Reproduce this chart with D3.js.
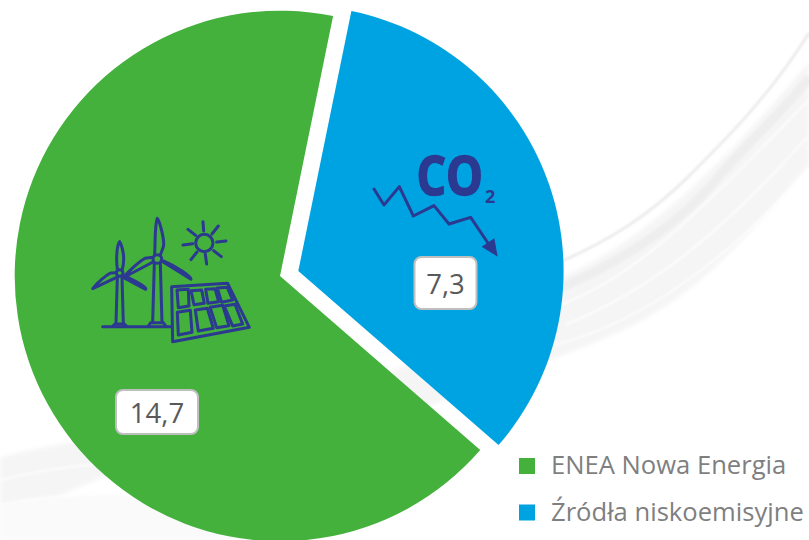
<!DOCTYPE html>
<html>
<head>
<meta charset="utf-8">
<script src="https://cdn.jsdelivr.net/npm/d3@7"></script>
<style>
  html, body { margin: 0; padding: 0; background: #fff; }
  svg { display: block; }
  text { font-family: "Open Sans", Lato, sans-serif; }
</style>
</head>
<body>
<div id="chart"></div>
<script>
// dane
const categories = ["ENEA Nowa Energia", "Źródła niskoemisyjne"];
const values = [14.7, 7.3];
const colors = ["#43b13b", "#00a3e2"];
const labels = ["14,7", "7,3"];

const width = 809;
const height = 540;
const radius = 265.3;
const iconColor = "#2b3990";

const svg = d3.select("#chart").append("svg")
    .attr("width", width)
    .attr("height", height);

// tlo - szare pociagniecia pedzla
const defs = svg.append("defs");
defs.append("filter").attr("id", "soft")
    .append("feGaussianBlur").attr("stdDeviation", 2);
defs.append("filter").attr("id", "soft2")
    .append("feGaussianBlur").attr("stdDeviation", 0.8);

const bg = svg.append("g");
const brush = bg.append("g").attr("filter", "url(#soft)");
brush.append("path")
    .attr("d", "M540,285 C610,262 690,205 809,62 L809,165 C740,245 690,305 600,340 C520,372 470,395 380,420 C300,440 220,440 120,470 L0,520 L0,458 C60,440 130,435 240,430 C360,400 470,330 540,285 Z")
    .attr("fill", "#f5f5f5");
brush.append("path")
    .attr("d", "M0,505 C70,490 140,490 230,515 L300,540 L0,540 Z")
    .attr("fill", "#fafafa");
// gorna krawedz
bg.append("path")
    .attr("d", "M560,262 C610,240 650,215 690,175 C730,135 770,95 809,33")
    .attr("fill", "none").attr("stroke", "#e9e9e9").attr("stroke-width", 2.5).attr("filter", "url(#soft2)");
bg.append("path")
    .attr("d", "M560,288 C620,262 680,225 720,175 C750,140 785,110 809,78")
    .attr("fill", "none").attr("stroke", "#eeeeee").attr("stroke-width", 9).attr("filter", "url(#soft2)");
// biale smugi
[
    "M560,305 C640,275 700,210 809,100",
    "M565,325 C650,290 720,235 809,135",
    "M555,345 C650,320 730,255 809,170",
    "M0,480 C40,470 90,462 150,462",
    "M0,505 C50,495 110,490 170,495"
].forEach(d => {
    bg.append("path").attr("d", d)
        .attr("fill", "none").attr("stroke", "#fff").attr("stroke-width", 1.5).attr("filter", "url(#soft2)");
});

// wycinki kolowe
const pie = d3.pie()
    .sort(null)
    .startAngle(131 * Math.PI / 180)
    .endAngle((131 + 360) * Math.PI / 180)
    .value(d => d);
const arc = d3.arc().innerRadius(0).outerRadius(radius);
const apex = [[280, 276], [298.3, 271]];

svg.selectAll(".slice")
    .data(pie(values))
    .enter()
    .append("path")
    .attr("class", "slice")
    .attr("transform", (d, i) => `translate(${apex[i][0]},${apex[i][1]})`)
    .attr("d", arc)
    .attr("fill", (d, i) => colors[i]);

// ikona: wiatraki i panel
const wind = svg.append("g")
    .attr("transform", "translate(80,200) scale(0.3333)")
    .attr("fill", "none")
    .attr("stroke", iconColor)
    .attr("stroke-width", 9)
    .attr("stroke-linejoin", "round")
    .attr("stroke-linecap", "round");

[
    // maly wiatrak
    "M112,208 C108,180 110,135 119,125 C128,140 136,175 127,208",
    "M109,218 L92,219 C78,226 52,248 38,266 L110,232",
    "M130,232 L197,268 C202,262 160,240 132,226",
    "M112,232 L108,372 M126,232 L130,372",
    "M98,379 L105,372 H133 L140,379",
    // duzy wiatrak
    "M224,163 C226,130 224,75 232,55 C240,65 255,125 250,140 C248,150 243,158 241,165",
    "M219,172 L195,175 C180,182 145,215 128,234 L219,186",
    "M246,184 L333,238 C335,230 290,200 250,183",
    "M223,190 L218,368 M241,190 L246,368",
    "M205,379 L212,368 H250 L258,379",
    // ziemia
    "M68,380 H273",
    // panel
    "M275,260 L443,250 L508,382 L278,425 Z",
    "M291,270 L325,268 L327,318 L295,323 Z",
    "M333,272 L365,270 L373,310 L342,314 Z",
    "M377,268 L405,266 L416,305 L384,310 Z",
    "M412,264 L442,262 L458,300 L425,307 Z",
    "M292,337 L331,331 L336,397 L295,405 Z",
    "M346,330 L382,325 L400,385 L355,393 Z",
    "M390,322 L428,316 L447,377 L410,383 Z",
    "M433,318 L465,313 L488,372 L458,378 Z",
    // slonce
    "M369,65 L371,93 M415,78 L396,102 M438,123 L410,126 M424,170 L401,152 M380,192 L376,163 M333,179 L351,156 M309,135 L338,131 M324,88 L347,106"
].forEach(d => wind.append("path").attr("d", d));
wind.append("circle").attr("cx", 119).attr("cy", 219).attr("r", 10).attr("fill", colors[0]);
wind.append("circle").attr("cx", 232).attr("cy", 177).attr("r", 13).attr("fill", colors[0]);
wind.append("circle").attr("cx", 373).attr("cy", 129).attr("r", 26);

// ikona: CO2 i strzalka
const co2 = svg.append("g").attr("transform", "translate(360,140) scale(0.3333)");
co2.append("path")
    .attr("d", "M42,147 L72,195 L118,140 L160,228 L222,197 L267,252 L332,232 L388,315")
    .attr("fill", "none").attr("stroke", iconColor).attr("stroke-width", 9)
    .attr("stroke-linejoin", "round").attr("stroke-linecap", "round");
co2.append("path").attr("d", "M365,320 L403,295 L413,350 Z").attr("fill", iconColor);

// Liberation bold scisniety w poziomie, bo nie ma waskiego kroju
svg.append("text")
    .attr("transform", "translate(416.5,194.5) scale(0.86,1)")
    .attr("font-family", "'Liberation Sans'")
    .attr("font-size", 54).attr("font-weight", 700)
    .attr("stroke", iconColor).attr("stroke-width", 1.6)
    .attr("fill", iconColor)
    .text("CO");
svg.append("text")
    .attr("x", 485).attr("y", 202.5)
    .attr("font-family", "'Liberation Sans'")
    .attr("font-size", 18).attr("font-weight", 700)
    .attr("fill", iconColor)
    .text("2");

// etykiety wartosci
const boxes = [
    { x: 116, y: 390, w: 82, h: 44 },
    { x: 414.5, y: 257, w: 62, h: 52 }
];
labels.forEach((t, i) => {
    const b = boxes[i];
    svg.append("rect")
        .attr("x", b.x).attr("y", b.y)
        .attr("width", b.w).attr("height", b.h)
        .attr("rx", 7)
        .attr("fill", "#fff")
        .attr("stroke", "#bfbfbf")
        .attr("stroke-width", 2);
    svg.append("text")
        .attr("x", b.x + b.w / 2)
        .attr("y", b.y + b.h / 2 + 10.5)
        .attr("text-anchor", "middle")
        .attr("font-size", 27.5)
        .attr("fill", "#595959")
        .text(t);
});

// legenda
const legendY = d3.scalePoint().domain(categories).range([466, 512.5]);
const legend = svg.selectAll(".legend")
    .data(categories)
    .enter()
    .append("g")
    .attr("class", "legend")
    .attr("transform", d => `translate(519,${legendY(d)})`);
legend.append("rect")
    .attr("x", 0).attr("y", -8)
    .attr("width", 16).attr("height", 16)
    .attr("fill", (d, i) => colors[i]);
legend.append("text")
    .attr("x", 32).attr("y", 8)
    .attr("font-size", 25.6)
    .attr("fill", "#7f7f7f")
    .text(d => d);
</script>
</body>
</html>
